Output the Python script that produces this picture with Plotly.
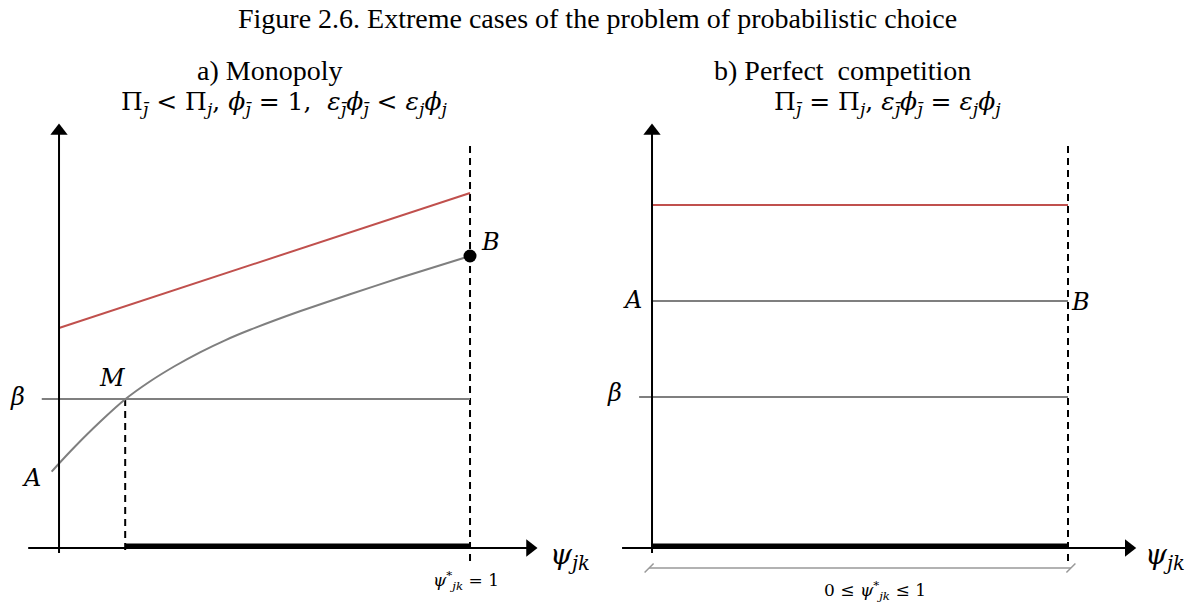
import plotly.graph_objects as go

# Figure 2.6 - extreme cases of probabilistic choice
# x in units of psi_jk (0..1), y in arbitrary value units (0 = psi axis)

# a) Monopoly
psi_curve = [-0.018, 0.0, 0.039, 0.100, 0.161, 0.221, 0.282, 0.343, 0.404,
             0.465, 0.586, 0.708, 0.830, 1.0]
val_curve = [0.763, 0.845, 1.015, 1.262, 1.487, 1.665, 1.82, 1.957, 2.077,
             2.182, 2.367, 2.537, 2.702, 2.92]
psi_red_a = [0.0, 1.0]
val_red_a = [2.20, 3.55]
psi_beta_a = [-0.042, 1.0]
beta_a = 1.49
psi_m = 0.161
psi_b = 1.0
val_b = 2.92

# b) Perfect competition
psi_lines_b = [0.0, 1.0]
val_red_b = 3.43
val_ab_b = 2.47
psi_beta_b = [-0.031, 1.0]
beta_b = 1.51

# axis extents (value units)
X_AXIS_A = [-0.075, 1.146]
X_AXIS_B = [-0.072, 1.146]
Y_AXIS = [-0.05, 4.17]
DASH_TOP = 4.02
DASH_BOTTOM = -0.14

RED = "#C0504D"
GRAY = "#7F7F7F"
SERIF = "Liberation Serif"
MATH = "DejaVu Serif"

fig = go.Figure()


def seg(x, y, color, width, dash="solid", xaxis="x", shape="linear"):
    fig.add_trace(go.Scatter(x=x, y=y, mode="lines", xaxis=xaxis, yaxis="y",
                             line=dict(color=color, width=width, dash=dash,
                                       shape=shape, smoothing=0.6),
                             hoverinfo="skip", showlegend=False))


def marker(x, y, symbol, size, xaxis="x", color="black", lw=0):
    fig.add_trace(go.Scatter(x=[x], y=[y], mode="markers", xaxis=xaxis, yaxis="y",
                             marker=dict(symbol=symbol, size=size, color=color,
                                         line=dict(color=color, width=lw)),
                             hoverinfo="skip", showlegend=False))


DASH = "7px,5px"

# ---- panel a
seg([psi_m, psi_m], [beta_a, -0.07], "black", 2, DASH)
seg([psi_b, psi_b], [DASH_TOP, DASH_BOTTOM], "black", 2, DASH)
seg(psi_red_a, val_red_a, RED, 2)
seg(psi_beta_a, [beta_a, beta_a], GRAY, 2)
seg(psi_curve, val_curve, GRAY, 2, shape="spline")
seg(X_AXIS_A, [0, 0], "black", 2)
seg([0, 0], Y_AXIS, "black", 2)
seg([psi_m, psi_b], [0.02, 0.02], "black", 5)
marker(X_AXIS_A[1], 0, "triangle-right", 15)
marker(0, Y_AXIS[1], "triangle-up", 15)
marker(psi_b, val_b, "circle", 13)

# ---- panel b
seg([1, 1], [DASH_TOP, DASH_BOTTOM], "black", 2, DASH, xaxis="x2")
seg(psi_lines_b, [val_red_b, val_red_b], RED, 2, xaxis="x2")
seg(psi_lines_b, [val_ab_b, val_ab_b], GRAY, 2, xaxis="x2")
seg(psi_beta_b, [beta_b, beta_b], GRAY, 2, xaxis="x2")
seg(X_AXIS_B, [0, 0], "black", 2, xaxis="x2")
seg([0, 0], Y_AXIS, "black", 2, xaxis="x2")
seg(psi_lines_b, [0.02, 0.02], "black", 5, xaxis="x2")
marker(X_AXIS_B[1], 0, "triangle-right", 15, xaxis="x2")
marker(0, Y_AXIS[1], "triangle-up", 15, xaxis="x2")
# range bracket under the axis
seg([-0.007, 1.007], [-0.20, -0.20], "#999999", 1.5, xaxis="x2")
marker(-0.007, -0.20, "line-ne", 9, xaxis="x2", color="#999999", lw=1.5)
marker(1.007, -0.20, "line-ne", 9, xaxis="x2", color="#999999", lw=1.5)


def label(text, x, y, xref="x", size=24, family=MATH, xanchor="center"):
    fig.add_annotation(text=text, x=x, y=y, xref=xref, yref="y", showarrow=False,
                       xanchor=xanchor, yanchor="middle",
                       font=dict(family=family, size=size, color="black"))


label("Figure 2.6. Extreme cases of the problem of probabilistic choice", 0.5, 5.30,
      xref="paper", size=28, family=SERIF)

label("a) Monopoly", 0.513, 4.78, size=28, family=SERIF)
label("Π<sub><i>j̄</i></sub> < Π<sub><i>j</i></sub>, <i>ϕ</i><sub><i>j̄</i></sub> = 1,  "
      "<i>ε</i><sub><i>j̄</i></sub><i>ϕ</i><sub><i>j̄</i></sub> < <i>ε</i><sub><i>j</i></sub><i>ϕ</i><sub><i>j</i></sub>",
      0.547, 4.45, size=25)
label("<i>β</i>", -0.1, 1.51)
label("<i>A</i>", -0.066, 0.70)
label("<i>M</i>", 0.13, 1.70)
label("<i>B</i>", 1.05, 3.06)
label("<i>ψ</i><sub><i>jk</i></sub>", 1.19, -0.08, size=28, xanchor="left")
label("<i>ψ</i><sup>*</sup><sub><i>jk</i></sub> = 1", 0.99, -0.32, size=17)

label("b) Perfect  competition", 0.457, 4.78, xref="x2", size=28, family=SERIF)
label("Π<sub><i>j̄</i></sub> = Π<sub><i>j</i></sub>, <i>ε</i><sub><i>j̄</i></sub><i>ϕ</i><sub><i>j̄</i></sub> = "
      "<i>ε</i><sub><i>j</i></sub><i>ϕ</i><sub><i>j</i></sub>",
      0.566, 4.45, xref="x2", size=25)
label("<i>β</i>", -0.089, 1.55, xref="x2")
label("<i>A</i>", -0.046, 2.48, xref="x2")
label("<i>B</i>", 1.03, 2.46, xref="x2")
label("<i>ψ</i><sub><i>jk</i></sub>", 1.18, -0.08, xref="x2", size=28, xanchor="left")
label("0 ≤ <i>ψ</i><sup>*</sup><sub><i>jk</i></sub> ≤ 1", 0.536, -0.42, xref="x2", size=17)

hidden = dict(visible=False, showgrid=False, zeroline=False, fixedrange=True)
fig.update_layout(
    width=1195, height=607,
    margin=dict(l=0, r=0, t=0, b=0),
    paper_bgcolor="white", plot_bgcolor="white",
    xaxis=dict(domain=[0, 0.4996], range=[-0.1436, 1.309], **hidden),
    xaxis2=dict(domain=[0.4996, 1], range=[-0.1322, 1.3053], anchor="y", **hidden),
    yaxis=dict(domain=[0, 1], range=[-0.59, 5.48], **hidden),
    showlegend=False,
)

# drop the default page margin so the figure sits at the window origin
fig.write_html("out.html", config={"displayModeBar": False},
               post_script="document.body.style.margin='0';")
